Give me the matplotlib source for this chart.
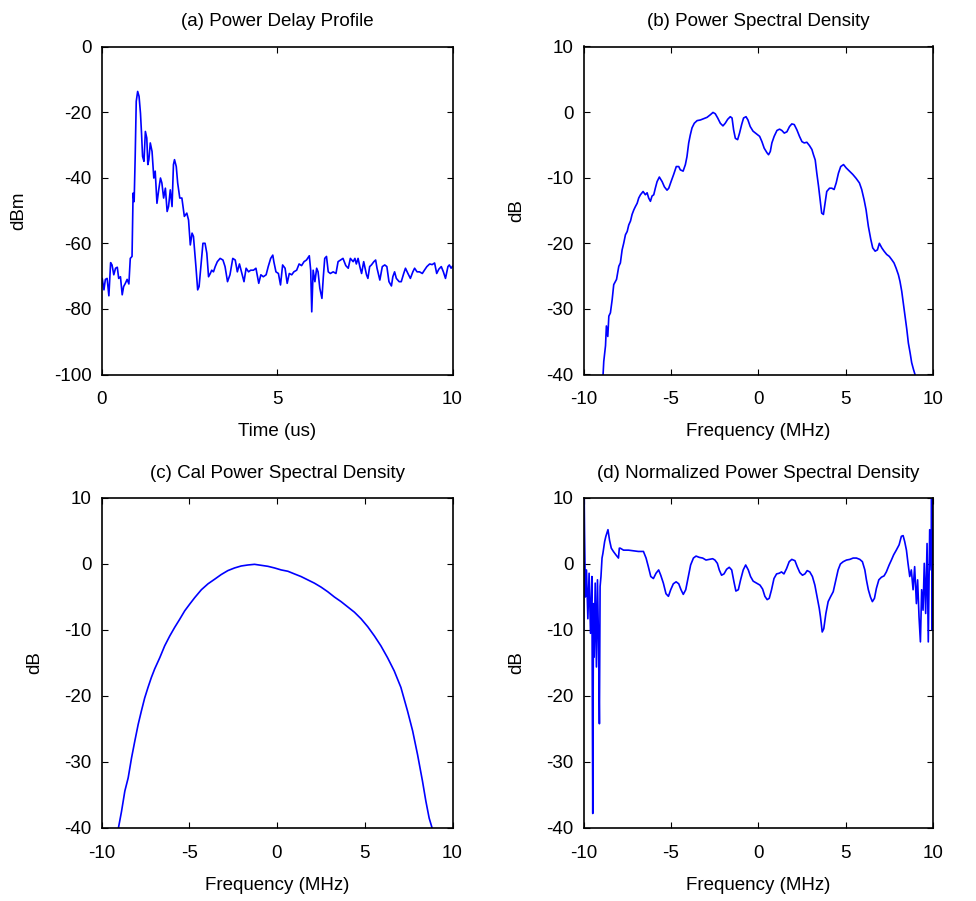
import matplotlib
matplotlib.use("Agg")
import matplotlib.pyplot as plt

plt.rcParams['font.family'] = ['Liberation Sans', 'DejaVu Sans']
plt.rcParams['font.size'] = 13.5
plt.rcParams['axes.unicode_minus'] = False

# (a) Power Delay Profile
pdp_time = [0.0, 0.02, 0.07, 0.11, 0.16, 0.21, 0.26, 0.30, 0.35, 0.40, 0.45, 0.49, 0.54, 0.59, 0.63, 0.68,
            0.73, 0.78, 0.82, 0.87, 0.90, 0.93, 0.96, 0.99, 1.03, 1.07, 1.11, 1.14, 1.17, 1.21, 1.25, 1.29,
            1.32, 1.35, 1.39, 1.44, 1.49, 1.53, 1.58, 1.63, 1.68, 1.72, 1.77, 1.82, 1.87, 1.91, 1.96, 2.01,
            2.05, 2.08, 2.13, 2.17, 2.23, 2.29, 2.36, 2.43, 2.48, 2.53, 2.58, 2.62, 2.69, 2.74, 2.78, 2.83,
            2.89, 2.95, 3.00, 3.05, 3.10, 3.14, 3.19, 3.24, 3.30, 3.38, 3.46, 3.52, 3.59, 3.66, 3.74, 3.81,
            3.87, 3.93, 4.00, 4.06, 4.12, 4.19, 4.25, 4.33, 4.40, 4.48, 4.54, 4.61, 4.69, 4.75, 4.82, 4.88,
            4.91, 4.97, 5.04, 5.10, 5.16, 5.23, 5.29, 5.35, 5.42, 5.48, 5.56, 5.63, 5.70, 5.77, 5.84, 5.92,
            5.96, 5.99, 6.03, 6.08, 6.13, 6.17, 6.22, 6.28, 6.32, 6.36, 6.41, 6.46, 6.52, 6.60, 6.68, 6.74,
            6.81, 6.88, 6.96, 7.03, 7.09, 7.17, 7.22, 7.26, 7.31, 7.36, 7.41, 7.47, 7.55, 7.59, 7.64, 7.69,
            7.76, 7.81, 7.85, 7.93, 8.00, 8.07, 8.13, 8.19, 8.26, 8.30, 8.35, 8.40, 8.48, 8.54, 8.61, 8.66,
            8.73, 8.80, 8.87, 8.92, 8.99, 9.06, 9.14, 9.20, 9.27, 9.35, 9.42, 9.49, 9.55, 9.61, 9.68, 9.74,
            9.80, 9.87, 9.91, 9.96, 10.0]
pdp_dbm = [-72.0, -70.7, -74.2, -71.0, -70.7, -76.0, -65.9, -66.6, -69.6, -67.6, -67.3, -70.7, -70.2, -75.7, -73.2, -72.2,
           -71.0, -72.4, -64.6, -64.0, -44.7, -47.3, -33.5, -16.7, -13.7, -15.2, -20.3, -26.4, -33.5, -35.0, -25.9, -27.9,
           -36.0, -34.5, -29.4, -32.0, -40.1, -38.0, -47.8, -43.7, -40.1, -41.6, -46.2, -43.2, -50.3, -48.8, -43.7, -48.8,
           -36.0, -34.5, -36.6, -41.6, -46.2, -46.2, -51.8, -50.8, -52.9, -60.5, -56.9, -57.9, -67.1, -74.2, -73.2, -67.1,
           -60.0, -60.0, -63.0, -70.2, -69.2, -68.2, -68.7, -67.1, -65.6, -64.6, -65.1, -67.1, -71.7, -69.6, -64.6, -65.1,
           -68.7, -66.3, -69.2, -71.7, -67.6, -68.7, -68.2, -68.2, -67.6, -72.2, -69.6, -70.2, -69.6, -67.1, -64.6, -63.6,
           -65.6, -68.7, -69.2, -72.7, -66.6, -67.6, -72.2, -69.2, -69.6, -68.7, -68.2, -66.3, -66.8, -65.6, -65.1, -63.8,
           -68.2, -80.9, -68.2, -71.7, -67.6, -68.7, -73.7, -76.8, -70.2, -64.6, -64.0, -68.7, -69.2, -68.7, -69.2, -65.6,
           -65.1, -64.6, -66.8, -67.6, -64.6, -65.6, -64.6, -66.3, -64.6, -67.1, -69.2, -65.6, -69.6, -70.7, -67.1, -66.6,
           -65.6, -65.1, -67.6, -71.2, -67.1, -66.6, -67.1, -71.7, -73.0, -70.2, -68.7, -70.7, -71.7, -71.7, -69.2, -67.6,
           -69.2, -70.7, -68.7, -67.6, -68.7, -68.7, -69.2, -68.2, -67.1, -66.3, -66.5, -66.0, -69.2, -67.9, -67.1, -68.7,
           -70.7, -67.1, -66.6, -67.6, -67.0]

# (b) Power Spectral Density
psd_freq = [-8.88, -8.84, -8.74, -8.69, -8.61, -8.55, -8.46, -8.36, -8.27, -8.11, -7.98, -7.89, -7.79, -7.70, -7.60, -7.50,
            -7.41, -7.31, -7.22, -7.12, -7.03, -6.93, -6.84, -6.74, -6.59, -6.46, -6.36, -6.27, -6.17, -6.08, -5.98, -5.89,
            -5.79, -5.66, -5.50, -5.37, -5.22, -5.12, -4.99, -4.84, -4.69, -4.55, -4.46, -4.30, -4.17, -4.08, -3.98, -3.89,
            -3.79, -3.66, -3.50, -3.31, -3.12, -2.93, -2.74, -2.59, -2.46, -2.32, -2.17, -2.02, -1.89, -1.75, -1.60, -1.50,
            -1.41, -1.31, -1.18, -1.07, -0.95, -0.84, -0.70, -0.59, -0.46, -0.30, -0.11, 0.08, 0.21, 0.34, 0.50, 0.59,
            0.69, 0.78, 0.91, 1.07, 1.22, 1.35, 1.49, 1.64, 1.79, 1.92, 2.06, 2.21, 2.36, 2.50, 2.63, 2.78,
            2.93, 3.07, 3.16, 3.26, 3.35, 3.45, 3.54, 3.63, 3.73, 3.82, 3.92, 4.08, 4.21, 4.34, 4.46, 4.59,
            4.72, 4.88, 5.03, 5.22, 5.41, 5.60, 5.79, 5.92, 6.06, 6.17, 6.30, 6.44, 6.55, 6.69, 6.82, 6.93,
            7.07, 7.20, 7.35, 7.50, 7.64, 7.77, 7.89, 8.02, 8.11, 8.21, 8.30, 8.40, 8.50, 8.59, 8.69, 8.78,
            8.88, 8.97]
psd_db = [-40.0, -38.0, -35.6, -32.6, -34.2, -31.1, -30.6, -28.6, -26.3, -25.5, -23.5, -23.0, -21.0, -20.0, -18.7, -18.2,
          -17.2, -16.6, -15.6, -14.9, -14.4, -13.9, -13.1, -12.6, -12.1, -12.6, -12.3, -13.1, -13.6, -12.8, -12.6, -11.6,
          -10.6, -9.9, -10.6, -11.4, -11.9, -11.6, -10.6, -9.5, -8.3, -8.3, -8.8, -9.0, -8.0, -6.8, -4.7, -3.5,
          -2.4, -1.7, -1.3, -1.2, -1.0, -0.8, -0.4, -0.05, -0.25, -0.9, -1.7, -2.1, -1.7, -1.1, -0.7, -0.9,
          -2.7, -4.0, -4.2, -3.2, -1.9, -0.9, -0.7, -1.2, -2.2, -2.9, -3.3, -3.7, -4.5, -5.5, -6.2, -6.5,
          -6.0, -4.7, -3.7, -2.8, -2.6, -2.8, -3.2, -3.0, -2.2, -1.8, -1.9, -2.7, -3.7, -4.5, -4.7, -4.6,
          -5.1, -5.7, -6.5, -7.3, -9.3, -11.3, -13.4, -15.4, -15.6, -13.9, -12.1, -11.6, -11.6, -11.8, -10.8, -9.3,
          -8.3, -8.0, -8.5, -9.0, -9.5, -10.1, -10.8, -11.8, -13.4, -14.9, -17.4, -19.4, -20.7, -21.2, -21.0, -20.0,
          -20.7, -21.2, -21.7, -22.0, -22.5, -23.0, -23.8, -24.8, -25.8, -27.3, -29.1, -31.1, -33.1, -35.2, -36.7, -38.2,
          -39.2, -40.0]

# (c) Cal Power Spectral Density
cal_freq = [-9.05, -8.86, -8.67, -8.48, -8.29, -8.10, -7.91, -7.73, -7.54, -7.35, -7.16, -6.97, -6.68, -6.40, -6.11, -5.83,
            -5.55, -5.26, -4.98, -4.69, -4.31, -3.93, -3.55, -3.18, -2.80, -2.42, -2.04, -1.66, -1.28, -0.90, -0.52, -0.14,
            0.24, 0.62, 0.99, 1.37, 1.75, 2.13, 2.51, 2.89, 3.27, 3.65, 4.03, 4.41, 4.79, 5.17, 5.55, 5.92,
            6.30, 6.68, 7.06, 7.44, 7.73, 8.01, 8.29, 8.48, 8.67, 8.86]
cal_db = [-40.2, -37.5, -34.4, -32.4, -29.4, -26.8, -24.3, -22.3, -20.3, -18.7, -17.2, -15.9, -14.2, -12.4, -10.9, -9.6,
          -8.4, -7.1, -6.1, -5.1, -3.9, -3.0, -2.3, -1.6, -1.0, -0.6, -0.3, -0.15, -0.05, -0.2, -0.35, -0.6,
          -0.9, -1.1, -1.5, -1.9, -2.4, -2.9, -3.5, -4.2, -5.0, -5.7, -6.5, -7.3, -8.3, -9.5, -10.9, -12.4,
          -14.2, -16.2, -18.7, -22.3, -25.3, -28.9, -32.9, -35.9, -38.5, -40.2]

# (d) Normalized Power Spectral Density
norm_freq = [-9.99, -9.96, -9.94, -9.89, -9.83, -9.75, -9.68, -9.60, -9.52, -9.47, -9.43, -9.39, -9.33, -9.26, -9.20, -9.14,
             -9.09, -9.05, -9.00, -8.94, -8.89, -8.79, -8.72, -8.60, -8.51, -8.41, -8.29, -8.15, -8.00, -7.95, -7.90, -7.71,
             -7.43, -7.14, -6.86, -6.57, -6.42, -6.29, -6.15, -6.00, -5.85, -5.70, -5.58, -5.43, -5.28, -5.14, -5.01, -4.86,
             -4.70, -4.55, -4.42, -4.29, -4.15, -4.00, -3.87, -3.71, -3.56, -3.37, -3.18, -2.99, -2.80, -2.61, -2.48, -2.34,
             -2.23, -2.10, -1.96, -1.81, -1.66, -1.52, -1.39, -1.28, -1.14, -1.01, -0.86, -0.72, -0.57, -0.44, -0.29, -0.10,
             0.10, 0.25, 0.38, 0.51, 0.63, 0.76, 0.90, 1.05, 1.20, 1.33, 1.47, 1.62, 1.77, 1.92, 2.10, 2.23,
             2.38, 2.53, 2.67, 2.80, 2.95, 3.10, 3.24, 3.37, 3.49, 3.56, 3.66, 3.75, 3.87, 4.00, 4.13, 4.29,
             4.44, 4.57, 4.70, 4.86, 5.05, 5.24, 5.43, 5.62, 5.81, 5.96, 6.10, 6.19, 6.30, 6.42, 6.53, 6.65,
             6.76, 6.90, 7.05, 7.20, 7.33, 7.49, 7.62, 7.75, 7.90, 8.06, 8.19, 8.29, 8.38, 8.48, 8.57, 8.67,
             8.76, 8.86, 8.95, 9.05, 9.12, 9.20, 9.28, 9.35, 9.43, 9.50, 9.58, 9.66, 9.73, 9.81, 9.89, 9.92,
             9.96, 10.0]
norm_db = [-10.0, 10.0, 4.7, -5.0, -0.9, -8.3, -1.4, -10.5, -1.9, -37.8, -6.0, -14.1, -2.9, -15.6, -2.4, -12.0,
           -24.2, -3.4, -1.9, 0.9, 1.6, 3.4, 4.2, 5.2, 3.6, 2.4, 1.9, 1.4, 0.9, 2.4, 2.4, 2.1,
           2.1, 2.0, 1.9, 1.9, 0.9, -0.4, -1.9, -2.2, -1.4, -0.9, -1.7, -2.9, -4.5, -4.9, -3.9, -3.0,
           -2.7, -3.0, -3.9, -4.6, -3.9, -1.9, -0.15, 0.9, 1.2, 1.0, 0.9, 0.6, 0.7, 0.8, 0.6, 0.1,
           -0.9, -1.7, -1.5, -0.8, -0.5, -0.9, -2.7, -4.1, -3.9, -2.4, -0.9, -0.15, -0.9, -1.9, -2.6, -2.9,
           -3.2, -3.8, -4.9, -5.4, -5.2, -3.9, -2.2, -1.5, -1.4, -1.2, -1.5, -0.7, 0.35, 0.7, 0.5, -0.4,
           -1.3, -1.7, -1.5, -1.0, -1.2, -1.9, -3.2, -5.0, -6.7, -8.0, -10.3, -9.8, -7.5, -5.7, -5.0, -4.2,
           -2.4, -0.9, 0.0, 0.35, 0.6, 0.7, 0.9, 0.9, 0.7, 0.35, -0.9, -2.4, -3.9, -5.0, -5.7, -5.2,
           -3.7, -2.4, -2.0, -1.8, -1.2, -0.15, 0.6, 1.4, 2.1, 2.9, 4.2, 4.3, 3.4, 2.1, 0.1, -1.9,
           -0.9, -3.9, -0.4, -6.0, -2.4, -8.0, -11.8, -3.9, -7.0, 0.1, -7.5, 3.1, -11.8, 5.2, -0.9, 10.0,
           -10.0, 10.0]

line_color = '#0000ff'
FS = 13.5

fig = plt.figure(figsize=(9.76, 9.01), dpi=100)
W, H = 976, 901


def rect(l, t, r, b):
    return [l / W, 1 - b / H, (r - l) / W, (b - t) / H]


def make_axes(px, xlim, ylim, xticks, yticks, title, xlabel, ylabel, ylab_x):
    l, t, r, b = px
    ax = fig.add_axes(rect(l, t, r, b))
    w, h = r - l, b - t
    ax.set_xlim(*xlim)
    ax.set_ylim(*ylim)
    ax.set_xticks(xticks)
    ax.set_yticks(yticks)
    ax.tick_params(direction='in', length=4, width=0.8, top=True, right=True,
                   labelsize=FS)
    ax.tick_params(axis='x', pad=12)
    ax.tick_params(axis='y', pad=7)
    for s in ax.spines.values():
        s.set_linewidth(1.2)
    ax.set_title(title, fontsize=FS, y=1 + 24.5 / h, pad=0, va='center')
    ax.set_xlabel(xlabel, fontsize=FS, va='center')
    ax.xaxis.set_label_coords(0.5, -57.5 / h)
    ax.set_ylabel(ylabel, fontsize=FS, va='center')
    ax.yaxis.set_label_coords((ylab_x - l) / w, 0.5)
    return ax


ax1 = make_axes((101.5, 46.5, 452.5, 374.5), (0, 10), (-100, 0), [0, 5, 10], [-100, -80, -60, -40, -20, 0],
                '(a) Power Delay Profile', 'Time (us)', 'dBm', 19)
ax1.plot(pdp_time, pdp_dbm, color=line_color, lw=1.2)

ax2 = make_axes((583.5, 46.5, 933, 374.5), (-10, 10), (-40, 10), [-10, -5, 0, 5, 10], [-40, -30, -20, -10, 0, 10],
                '(b) Power Spectral Density', 'Frequency (MHz)', 'dB', 517)
ax2.plot(psd_freq, psd_db, color=line_color, lw=1.2)

ax3 = make_axes((101.5, 498, 452.5, 828), (-10, 10), (-40, 10), [-10, -5, 0, 5, 10], [-40, -30, -20, -10, 0, 10],
                '(c) Cal Power Spectral Density', 'Frequency (MHz)', 'dB', 35)
ax3.plot(cal_freq, cal_db, color=line_color, lw=1.2)

ax4 = make_axes((583.5, 498, 933, 828), (-10, 10), (-40, 10), [-10, -5, 0, 5, 10], [-40, -30, -20, -10, 0, 10],
                '(d) Normalized Power Spectral Density', 'Frequency (MHz)', 'dB', 517)
ax4.plot(norm_freq, norm_db, color=line_color, lw=1.2)

fig.savefig('out.png', dpi=100)
